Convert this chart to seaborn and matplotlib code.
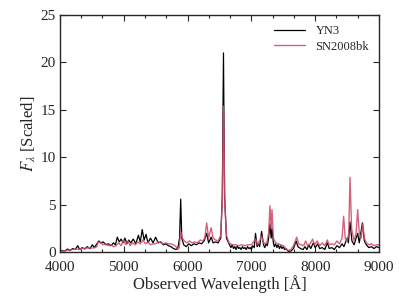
import matplotlib
matplotlib.use("Agg")
import matplotlib.pyplot as plt
from matplotlib.ticker import AutoMinorLocator
import seaborn as sns

# YN3 spectrum (black)
wl_yn3 = [4000, 4040, 4080, 4120, 4160, 4200, 4240, 4280, 4310, 4350, 4390, 4430, 4470,
          4510, 4540, 4580, 4610, 4640, 4680, 4720, 4760, 4800, 4840, 4870, 4900, 4930,
          4960, 4990, 5020, 5050, 5080, 5110, 5150, 5190, 5230, 5260, 5290, 5320, 5350,
          5380, 5420, 5460, 5500, 5540, 5580, 5620, 5660, 5700, 5740, 5780, 5820, 5850,
          5875, 5893, 5910, 5940, 5980, 6020, 6060, 6100, 6140, 6180, 6220, 6260, 6300,
          6330, 6370, 6400, 6440, 6480, 6520, 6545, 6563, 6580, 6610, 6650, 6680, 6700,
          6720, 6740, 6760, 6780, 6800, 6820, 6840, 6860, 6880, 6900, 6920, 6940, 6960,
          6980, 7000, 7020, 7045, 7065, 7090, 7110, 7130, 7160, 7190, 7210, 7230, 7250,
          7270, 7291, 7310, 7323, 7345, 7360, 7380, 7400, 7420, 7440, 7460, 7480, 7500,
          7520, 7540, 7580, 7620, 7660, 7700, 7730, 7770, 7810, 7840, 7870, 7900, 7930,
          7970, 8000, 8040, 8070, 8110, 8150, 8190, 8220, 8260, 8300, 8340, 8380, 8420,
          8450, 8500, 8520, 8545, 8575, 8610, 8640, 8665, 8690, 8740, 8770, 8800, 8840,
          8880, 8920, 8960, 9000]
f_yn3 = [0.1, 0.2, 0.15, 0.35, 0.2, 0.4, 0.3, 0.7, 0.3, 0.5, 0.35, 0.6, 0.4,
         0.8, 0.5, 0.9, 1.2, 1.0, 1.1, 0.8, 0.9, 0.7, 1.0, 0.8, 1.6, 1.1,
         1.4, 1.0, 1.5, 0.9, 1.3, 1.0, 1.4, 0.9, 1.8, 1.1, 2.4, 1.3, 1.9,
         1.0, 1.5, 1.0, 1.6, 1.0, 1.1, 0.8, 0.9, 0.7, 0.6, 0.4, 0.3, 0.5,
         1.5, 5.6, 1.5, 0.8, 0.6, 0.9, 0.7, 0.9, 0.8, 1.0, 0.9, 1.2, 2.0,
         1.0, 1.6, 1.0, 1.1, 1.0, 1.5, 6.0, 21.0, 6.0, 1.5, 0.9, 0.5, 0.8,
         0.4, 0.6, 0.3, 0.7, 0.4, 0.5, 0.3, 0.6, 0.4, 0.5, 0.3, 0.6, 0.4,
         0.5, 0.3, 0.7, 0.5, 2.0, 0.6, 0.9, 0.6, 2.2, 0.8, 0.5, 0.9, 0.7,
         1.5, 3.0, 1.5, 2.5, 1.0, 0.6, 0.9, 0.5, 0.8, 0.4, 0.7, 0.4, 0.6,
         0.3, 0.4, 0.1, 0.15, 0.4, 1.2, 0.6, 0.4, 0.3, 0.6, 0.3, 0.8, 0.4,
         1.0, 0.5, 0.9, 0.4, 0.5, 0.3, 1.0, 0.4, 0.5, 0.3, 0.7, 0.5, 0.9,
         0.6, 1.5, 1.0, 3.2, 1.2, 0.8, 1.5, 2.0, 1.0, 3.1, 1.2, 0.8, 0.5,
         0.6, 0.4, 0.6, 0.5]

# SN2008bk spectrum (red)
wl_sn = [4000, 4050, 4100, 4150, 4200, 4250, 4300, 4350, 4400, 4450, 4500, 4550, 4580,
         4600, 4640, 4680, 4720, 4760, 4800, 4840, 4880, 4920, 4960, 5000, 5030, 5070,
         5100, 5140, 5180, 5220, 5260, 5300, 5340, 5380, 5420, 5460, 5500, 5540, 5580,
         5620, 5660, 5700, 5740, 5780, 5820, 5850, 5870, 5893, 5920, 5950, 5990, 6030,
         6070, 6110, 6150, 6200, 6240, 6270, 6300, 6330, 6370, 6400, 6440, 6480, 6520,
         6545, 6563, 6585, 6610, 6650, 6700, 6750, 6800, 6850, 6900, 6950, 7000, 7065,
         7100, 7160, 7200, 7240, 7270, 7291, 7310, 7323, 7345, 7380, 7420, 7460, 7500,
         7540, 7580, 7620, 7660, 7710, 7740, 7780, 7820, 7850, 7880, 7920, 7960, 7990,
         8030, 8070, 8110, 8150, 8190, 8220, 8260, 8300, 8340, 8380, 8420, 8445, 8470,
         8500, 8525, 8545, 8570, 8610, 8640, 8665, 8690, 8720, 8745, 8770, 8800, 8840,
         8880, 8920, 8960, 9000]
f_sn = [0.1, 0.15, 0.2, 0.25, 0.3, 0.35, 0.3, 0.45, 0.4, 0.5, 0.45, 0.5, 0.6,
        1.1, 1.0, 0.8, 0.9, 0.7, 0.8, 0.6, 0.7, 1.0, 0.7, 1.3, 0.8, 1.2,
        0.7, 1.0, 0.8, 1.1, 0.9, 1.3, 0.9, 1.1, 0.8, 0.9, 0.9, 1.1, 1.0,
        0.9, 1.0, 0.9, 0.9, 0.8, 0.6, 0.3, 0.5, 2.2, 1.5, 1.2, 1.0, 1.2,
        1.0, 1.1, 1.0, 1.3, 1.2, 1.5, 3.1, 1.5, 2.6, 1.5, 1.3, 1.2, 1.8,
        5.5, 15.4, 5.0, 1.8, 1.0, 0.8, 0.8, 0.7, 0.8, 0.7, 0.8, 0.8, 1.4,
        0.8, 1.7, 0.9, 1.0, 2.0, 4.9, 2.5, 4.5, 1.5, 1.0, 0.9, 0.8, 0.7,
        0.4, 0.2, 0.3, 0.7, 1.6, 0.9, 0.8, 0.7, 1.2, 0.7, 0.9, 1.4, 0.8,
        1.2, 0.7, 1.0, 0.7, 1.3, 0.8, 0.9, 0.8, 1.2, 0.9, 1.5, 3.8, 1.5,
        1.2, 2.0, 7.9, 2.5, 1.2, 2.0, 4.5, 2.0, 1.5, 3.0, 1.5, 1.0, 0.8,
        0.9, 0.7, 0.8, 0.8]

sns.set_style("ticks")
plt.rcParams["font.family"] = ["Liberation Serif", "DejaVu Serif"]
plt.rcParams["mathtext.fontset"] = "stix"

fig = plt.figure(figsize=(3.99, 2.99), dpi=100)
ax = fig.add_axes([0.150, 0.156, 0.800, 0.794])

sns.lineplot(x=wl_yn3, y=f_yn3, ax=ax, color="black", lw=0.9, label="YN3",
             sort=False, estimator=None)
sns.lineplot(x=wl_sn, y=f_sn, ax=ax, color="#d0506e", lw=1.0, alpha=0.9,
             label="SN2008bk", sort=False, estimator=None)

ax.set_xlim(4000, 9000)
ax.set_ylim(0, 25)
ax.set_xticks([4000, 5000, 6000, 7000, 8000, 9000])
ax.set_yticks([0, 5, 10, 15, 20, 25])
ax.xaxis.set_minor_locator(AutoMinorLocator(3))
ax.tick_params(which="both", direction="in", top=True, right=True,
               labelsize=11, width=0.8)
ax.tick_params(which="major", length=4)
ax.tick_params(which="minor", length=2)
ax.tick_params(axis="x", pad=6)
ax.tick_params(axis="y", pad=3)
for s in ax.spines.values():
    s.set_linewidth(1.0)

ax.set_xlabel("Observed Wavelength [Å]", fontsize=12, labelpad=1)
ax.set_ylabel(r"$F_\lambda$ [Scaled]", fontsize=12, labelpad=2)
ax.legend(loc="upper right", frameon=False, fontsize=9, handlelength=2.5,
          borderaxespad=0.4, labelspacing=0.3)

fig.savefig("out.png", dpi=100)
